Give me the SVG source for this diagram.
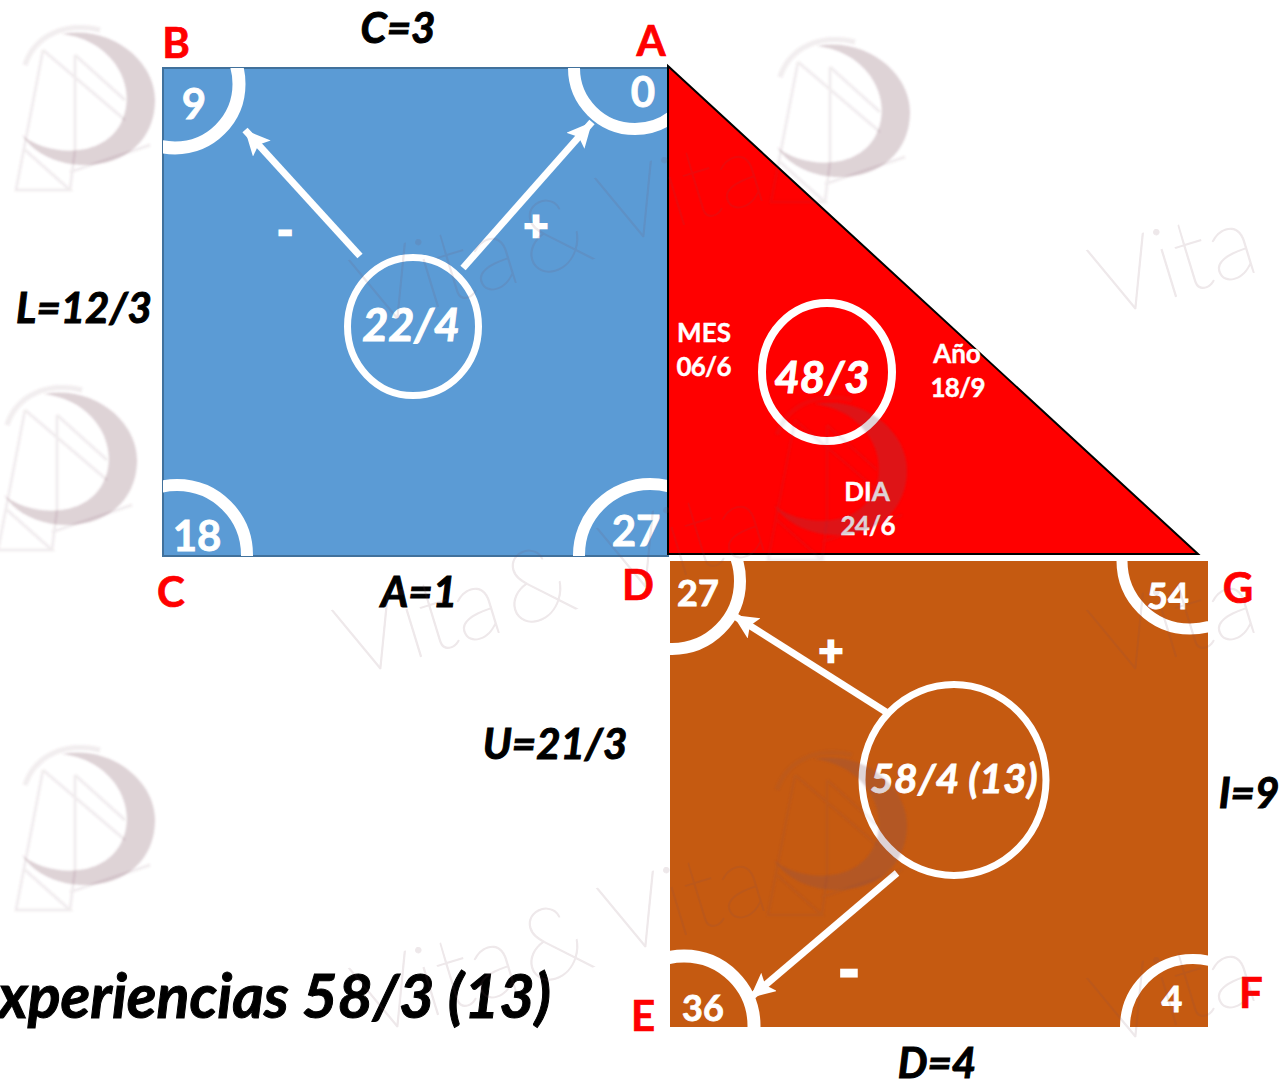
<svg xmlns="http://www.w3.org/2000/svg" width="1284" height="1081" viewBox="0 0 1284 1081">
<style>
text{font-family:Lato,"Liberation Sans",sans-serif;font-weight:700}
.r{fill:#f00;font-size:42px;stroke:#f00;stroke-width:.7}
.k{fill:#000;font-style:italic;font-size:42px;stroke:#000;stroke-width:1}
.n{fill:#fff;font-size:42px;stroke:#fff;stroke-width:.8}
.m{font-size:36px}
.s{fill:#fff;font-size:26px;stroke:#fff;stroke-width:.4}
.i{fill:#fff;font-style:italic;stroke:#fff;stroke-width:1}
.arc,.ring{fill:none;stroke:#fff}
.ar{stroke:#fff;stroke-width:7;fill:none;marker-end:url(#h)}
.vt{font-family:Lato,sans-serif;font-weight:100;font-size:100px;word-spacing:-22px;fill:#7a4a5a;stroke:#7a4a5a;stroke-width:1;opacity:.12}
</style>
<defs>
<marker id="h" markerUnits="userSpaceOnUse" markerWidth="30" markerHeight="30" refX="25" refY="12" orient="auto"><path d="M0 0L25 12L0 24L5 12Z" fill="#fff"/></marker>
<clipPath id="cb"><rect x="163" y="68" width="505" height="488"/></clipPath>
<clipPath id="co"><rect x="670" y="561" width="538" height="466"/></clipPath>
<filter id="bl" x="-10%" y="-10%" width="120%" height="120%"><feGaussianBlur stdDeviation="1.2"/></filter>
<g id="logo" fill="none" filter="url(#bl)">
<path d="M62 34C110 25 155 60 155 100C155 140 125 165 85 165C60 165 35 155 22 135C45 155 100 160 120 125C140 90 115 40 62 34Z" fill="#7a4a5a" fill-opacity=".25"/>
<path d="M25 65C35 35 65 22 100 30" stroke="#7a4a5a" stroke-opacity=".1" stroke-width="5"/>
<path d="M43 50L16 190L70 190L25 150M43 50L125 120M75 55L75 150L70 190M75 55L125 100M150 145L70 172" stroke="#7a4a5a" stroke-opacity=".11" stroke-width="2.5"/>
</g>
</defs>

<g id="node-blue">
<rect x="163" y="68" width="505" height="488" fill="#5b9bd5" stroke="#41719c" stroke-width="2"/>
<g clip-path="url(#cb)" class="arc">
<circle cx="175" cy="84" r="64" stroke-width="13"/>
<circle cx="635" cy="68" r="61" stroke-width="12"/>
<circle cx="177" cy="555" r="70" stroke-width="12"/>
<circle cx="650" cy="555" r="71" stroke-width="12"/>
</g>
<ellipse class="ring" cx="413" cy="326.5" rx="65.5" ry="69" stroke-width="7"/>
<text class="i" x="411" y="341" font-size="45" text-anchor="middle">22/4</text>
<text class="n" x="194" y="119" text-anchor="middle">9</text>
<text class="n" x="643" y="107" text-anchor="middle">0</text>
<text class="n" x="197" y="551" text-anchor="middle">18</text>
<text class="n" x="636" y="546" text-anchor="middle">27</text>
<text class="n" x="285" y="246" text-anchor="middle" style="stroke-width:2.5">-</text>
<text class="n" x="536" y="241" text-anchor="middle" style="stroke-width:2.5">+</text>
</g>

<g id="node-red">
<path d="M668 66L1198 554H668Z" fill="#f00" stroke="#000" stroke-width="2"/>
<ellipse class="ring" cx="827" cy="372" rx="65" ry="69" stroke-width="8"/>
<text class="i" x="822" y="393" font-size="44" text-anchor="middle">48/3</text>
<text class="s" x="704" y="342" text-anchor="middle">MES</text>
<text class="s" x="704" y="376" text-anchor="middle" textLength="55">06/6</text>
<text class="s" x="957" y="363" text-anchor="middle">Año</text>
<text class="s" x="958" y="397" text-anchor="middle" textLength="55">18/9</text>
<text class="s" x="867" y="501" text-anchor="middle">DIA</text>
<text class="s" x="868" y="535" text-anchor="middle" textLength="55">24/6</text>
</g>

<g id="node-orange">
<rect x="670" y="561" width="538" height="466" fill="#c55a11"/>
<g clip-path="url(#co)" class="arc">
<circle cx="672" cy="581" r="68" stroke-width="12"/>
<circle cx="1190" cy="561" r="68" stroke-width="11"/>
<circle cx="684" cy="1026" r="70" stroke-width="13"/>
<circle cx="1193" cy="1027" r="68" stroke-width="10"/>
</g>
<ellipse class="ring" cx="954" cy="780" rx="92" ry="95.5" stroke-width="7"/>
<text class="i" x="954" y="793" font-size="41" text-anchor="middle" style="stroke-width:.8">58/4 (13)</text>
<text class="n m" x="698" y="606" text-anchor="middle">27</text>
<text class="n m" x="1168" y="609" text-anchor="middle">54</text>
<text class="n m" x="703" y="1021" text-anchor="middle">36</text>
<text class="n m" x="1172" y="1012" text-anchor="middle">4</text>
<text class="n" x="831" y="666" text-anchor="middle" style="stroke-width:2.5">+</text>
<text class="n" x="849" y="990" text-anchor="middle" style="font-size:56px;stroke-width:3">-</text>
</g>

<g id="connectors">
<path class="ar" d="M360 256L245 130"/>
<path class="ar" d="M463 268L592 122"/>
<path class="ar" d="M886 712L733 615"/>
<path class="ar" d="M897 873L750 998"/>
</g>

<g id="labels">
<text class="r" x="176" y="58" text-anchor="middle">B</text>
<text class="r" x="651" y="56" text-anchor="middle">A</text>
<text class="r" x="171" y="607" text-anchor="middle">C</text>
<text class="r" x="638" y="600" text-anchor="middle">D</text>
<text class="r" x="643" y="1031" text-anchor="middle">E</text>
<text class="r" x="1251" y="1008" text-anchor="middle">F</text>
<text class="r" x="1238" y="603" text-anchor="middle">G</text>
<text class="k" x="398" y="43" text-anchor="middle">C=3</text>
<text class="k" x="84" y="323" text-anchor="middle">L=12/3</text>
<text class="k" x="419" y="607" text-anchor="middle">A=1</text>
<text class="k" x="555" y="759" text-anchor="middle">U=21/3</text>
<text class="k" x="1249" y="808" text-anchor="middle">I=9</text>
<text class="k" x="937" y="1078" text-anchor="middle">D=4</text>
<text class="k" x="-2" y="1018" style="font-size:61px">xperiencias 58/3 (13)</text>
</g>

<g id="watermark">
<use href="#logo" x="0" y="0"/>
<use href="#logo" x="755" y="12"/>
<use href="#logo" x="-18" y="360"/>
<use href="#logo" x="752" y="370"/>
<use href="#logo" x="0" y="720"/>
<use href="#logo" x="752" y="725"/>
<text class="vt" transform="translate(1105 318) rotate(-17)">Vita</text>
<text class="vt" transform="translate(367 328) rotate(-17)">Vita &amp;</text>
<text class="vt" transform="translate(613 246) rotate(-17)">Vita</text>
<text class="vt" transform="translate(350 678) rotate(-17)">Vita &amp;</text>
<text class="vt" transform="translate(1105 678) rotate(-17)">Vita</text>
<text class="vt" transform="translate(615 596) rotate(-17)">Vita</text>
<text class="vt" transform="translate(367 1036) rotate(-17)">Vita &amp;</text>
<text class="vt" transform="translate(615 956) rotate(-17)">Vita</text>
<text class="vt" transform="translate(1105 1046) rotate(-17)">Vita</text>
</g>
</svg>
